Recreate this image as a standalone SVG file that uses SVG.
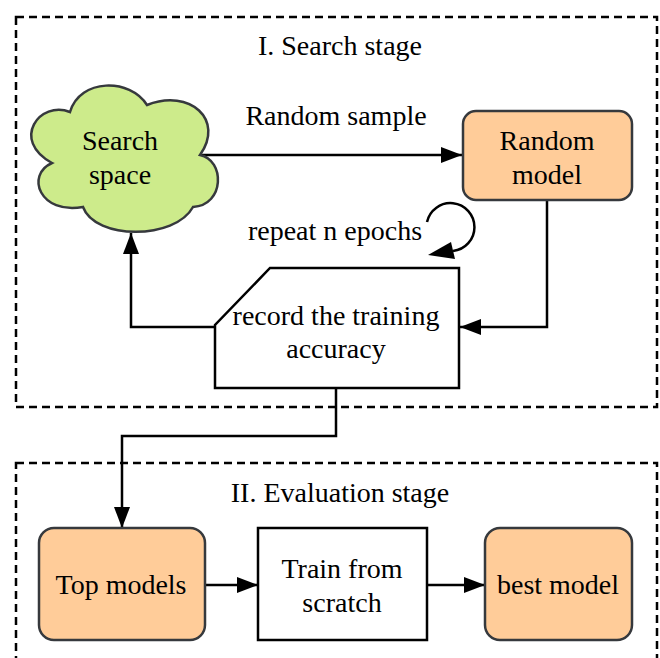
<svg xmlns="http://www.w3.org/2000/svg" width="660" height="658" viewBox="0 0 660 658">
<style>
text{font-family:"Liberation Serif","Times New Roman",serif;font-size:28px;fill:#000;text-anchor:middle}
.stage{fill:none;stroke:#000;stroke-width:2.5;stroke-dasharray:8 5}
.orange{fill:#ffcc99;stroke:#36393d;stroke-width:2.5}
.plain{fill:#fff;stroke:#000;stroke-width:2.5}
.conn{fill:none;stroke:#000;stroke-width:2.5}
</style>
<defs>
<marker id="arr" markerUnits="userSpaceOnUse" markerWidth="24" markerHeight="18" refX="21" refY="8" orient="auto">
<path d="M0,0 L21,8 L0,16 Z" fill="#000"/>
</marker>
</defs>
<rect class="stage" x="16" y="17" width="641" height="390"/>
<rect class="stage" x="16" y="463" width="641" height="220"/>
<text x="340" y="55">I. Search stage</text>
<text x="340" y="502">II. Evaluation stage</text>
<g id="connectors">
<path class="conn" d="M201,155 H462" marker-end="url(#arr)"/>
<path class="conn" d="M547,200 V327 H460" marker-end="url(#arr)"/>
<path class="conn" d="M215,327 H131 V233" marker-end="url(#arr)"/>
<path class="conn" d="M336,388 V436 H122 V528" marker-end="url(#arr)"/>
<path class="conn" d="M205,585 H258" marker-end="url(#arr)"/>
<path class="conn" d="M427,585 H485" marker-end="url(#arr)"/>
<path class="conn" d="M427,222 A24,24 0 1 1 453,251"/>
<polygon points="428,255 451,242 455,259" fill="#000"/>
</g>
<text x="336" y="125">Random sample</text>
<text x="335" y="240">repeat n epochs</text>
<g id="search-space">
<path d="M70,112 C40,100 10,140 52,163 C25,175 40,215 83,207 C95,240 175,240 193,207 C225,205 225,160 200,155 C225,120 190,88 147,105 C130,78 80,78 70,112 Z" fill="#cdeb8b" stroke="#36393d" stroke-width="2.5"/>
<text x="120" y="150">Search</text>
<text x="120" y="184">space</text>
</g>
<g id="random-model">
<rect class="orange" x="463" y="111" width="169" height="89" rx="13"/>
<text x="547" y="150">Random</text>
<text x="547" y="184">model</text>
</g>
<g id="record">
<path class="plain" d="M270,268 H459 V388 H215 V325 Z"/>
<text x="336" y="325">record the training</text>
<text x="336" y="358">accuracy</text>
</g>
<g id="top-models">
<rect class="orange" x="39" y="528" width="166" height="112" rx="15"/>
<text x="121" y="594">Top models</text>
</g>
<g id="train">
<rect class="plain" x="258" y="528" width="169" height="112"/>
<text x="342" y="578">Train from</text>
<text x="342" y="612">scratch</text>
</g>
<g id="best-model">
<rect class="orange" x="485" y="528" width="147" height="112" rx="15"/>
<text x="558" y="594">best model</text>
</g>
</svg>
